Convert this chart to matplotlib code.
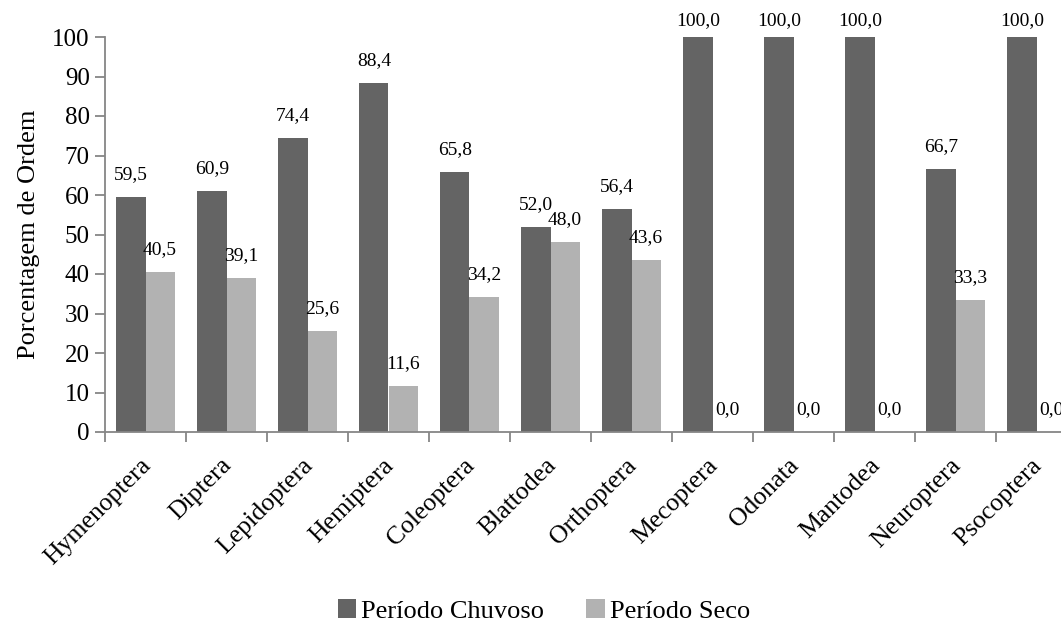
import matplotlib
matplotlib.use("Agg")
import matplotlib.pyplot as plt
import numpy as np

categories = ["Hymenoptera", "Diptera", "Lepidoptera", "Hemiptera", "Coleoptera",
              "Blattodea", "Orthoptera", "Mecoptera", "Odonata", "Mantodea",
              "Neuroptera", "Psocoptera"]
chuvoso = [59.5, 60.9, 74.4, 88.4, 65.8, 52.0, 56.4, 100.0, 100.0, 100.0, 66.7, 100.0]
seco = [40.5, 39.1, 25.6, 11.6, 34.2, 48.0, 43.6, 0.0, 0.0, 0.0, 33.3, 0.0]
series_names = ["Período Chuvoso", "Período Seco"]
yticks = list(range(0, 101, 10))

plt.rcParams["font.family"] = ["Liberation Serif", "DejaVu Serif"]

fig = plt.figure(figsize=(10.61, 6.21), dpi=100)
ax = fig.add_axes([105 / 1061, 1 - 432 / 621, 972 / 1061, (432 - 37) / 621])

x = np.arange(len(categories))
w = 0.36
dark = "#646464"
light = "#b2b2b2"
b1 = ax.bar(x - w / 2, chuvoso, w, color=dark, label=series_names[0])
b2 = ax.bar(x + w / 2, seco, w, color=light, label=series_names[1])

def fmt(v):
    return f"{v:.1f}".replace(".", ",")

for bars, vals in ((b1, chuvoso), (b2, seco)):
    for rect, v in zip(bars, vals):
        # labels at the top of the scale are pulled in to stay inside the figure
        off = 5.5 if v >= 98 else 10
        ax.annotate(fmt(v), (rect.get_x() + rect.get_width() / 2, v),
                    xytext=(0, off), textcoords="offset points",
                    ha="center", va="bottom", fontsize=14)

ax.set_xlim(-0.5, len(categories) - 0.5)
ax.set_ylim(0, 100)
ax.set_yticks(yticks)
ax.set_yticklabels([str(t) for t in yticks], fontsize=18)

# category names: invisible major ticks, nudged slightly left of the group centre
ax.set_xticks(x - 0.07)
ax.set_xticklabels(categories, rotation=45, ha="right", rotation_mode="anchor",
                   fontsize=18.5)
ax.set_xticks(np.arange(len(categories) + 1) - 0.5, minor=True)
ax.tick_params(axis="x", which="major", length=0, pad=16)
ax.tick_params(axis="x", which="minor", length=7, color="#868686", width=1.3,
               direction="out")
ax.tick_params(axis="y", length=7, color="#868686", width=1.3, pad=4)

for s in ("top", "right"):
    ax.spines[s].set_visible(False)
for s in ("left", "bottom"):
    ax.spines[s].set_color("#868686")
    ax.spines[s].set_linewidth(1.3)

ax.set_ylabel("Porcentagem de Ordem", fontsize=19, labelpad=9)

fig.legend(handles=[b1, b2], labels=series_names, loc="center",
           bbox_to_anchor=(544 / 1061, 1 - 611 / 621), ncol=2, frameon=False,
           fontsize=19, handlelength=0.7, handleheight=0.7, handletextpad=0.2,
           columnspacing=1.6, borderaxespad=0, borderpad=0)

fig.savefig("out.png", dpi=100)
